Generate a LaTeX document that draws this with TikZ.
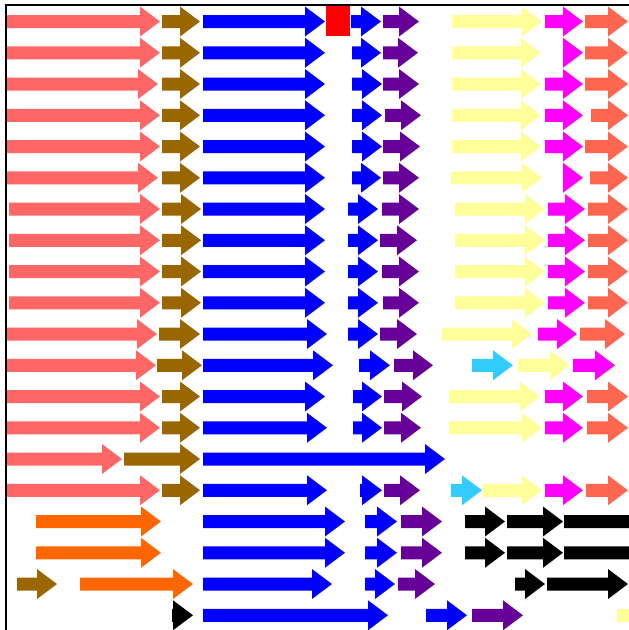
\documentclass[tikz,border=0pt]{standalone}
\definecolor{genePink}{HTML}{FF6666}
\definecolor{geneBrown}{HTML}{996600}
\definecolor{geneBlue}{HTML}{0000FF}
\definecolor{geneRed}{HTML}{FF0000}
\definecolor{genePurple}{HTML}{660099}
\definecolor{geneYellow}{HTML}{FFFF99}
\definecolor{geneMagenta}{HTML}{FF00FF}
\definecolor{geneSalmon}{HTML}{FF6650}
\definecolor{geneCyan}{HTML}{33CCFF}
\definecolor{geneOrange}{HTML}{FF6600}
\begin{document}
\begin{tikzpicture}[x=1pt,y=-1pt]
    \clip (0,0) rectangle (629,630);
    \fill[white] (0,0) rectangle (629,630);
    % row / start / tip / colour
    \foreach \r/\a/\b/\c in {
        1/7/160/genePink, 1/162/200/geneBrown, 1/203/325/geneBlue, 1/351/381/geneBlue, 1/383/419/genePurple, 1/452/542/geneYellow, 1/545/583/geneMagenta, 1/585/628/geneSalmon,
        2/7/160/genePink, 2/162/200/geneBrown, 2/203/325/geneBlue, 2/352/381/geneBlue, 2/383/418/genePurple, 2/452/541/geneYellow, 2/563/583/geneMagenta, 2/585/628/geneSalmon,
        3/7/158/genePink, 3/162/200/geneBrown, 3/203/325/geneBlue, 3/352/382/geneBlue, 3/383/419/genePurple, 3/452/541/geneYellow, 3/545/583/geneMagenta, 3/585/628/geneSalmon,
        4/7/160/genePink, 4/162/200/geneBrown, 4/203/325/geneBlue, 4/352/382/geneBlue, 4/385/421/genePurple, 4/452/541/geneYellow, 4/545/583/geneMagenta, 4/591/628/geneSalmon,
        5/7/160/genePink, 5/162/200/geneBrown, 5/203/325/geneBlue, 5/352/382/geneBlue, 5/383/420/genePurple, 5/452/541/geneYellow, 5/545/583/geneMagenta, 5/585/628/geneSalmon,
        6/7/158/genePink, 6/162/200/geneBrown, 6/203/325/geneBlue, 6/352/381/geneBlue, 6/383/419/genePurple, 6/451/542/geneYellow, 6/563/583/geneMagenta, 6/590/628/geneSalmon,
        7/9/160/genePink, 7/162/201/geneBrown, 7/203/325/geneBlue, 7/348/378/geneBlue, 7/382/419/genePurple, 7/455/545/geneYellow, 7/548/585/geneMagenta, 7/588/628/geneSalmon,
        8/9/160/genePink, 8/162/201/geneBrown, 8/203/325/geneBlue, 8/348/378/geneBlue, 8/380/417/genePurple, 8/455/545/geneYellow, 8/548/585/geneMagenta, 8/588/628/geneSalmon,
        9/9/160/genePink, 9/162/201/geneBrown, 9/203/325/geneBlue, 9/348/378/geneBlue, 9/382/419/genePurple, 9/455/545/geneYellow, 9/548/585/geneMagenta, 9/588/628/geneSalmon,
        10/9/160/genePink, 10/162/201/geneBrown, 10/203/325/geneBlue, 10/348/378/geneBlue, 10/383/419/genePurple, 10/455/545/geneYellow, 10/548/585/geneMagenta, 10/588/628/geneSalmon,
        11/7/157/genePink, 11/159/200/geneBrown, 11/203/327/geneBlue, 11/348/378/geneBlue, 11/380/417/genePurple, 11/442/532/geneYellow, 11/538/577/geneMagenta, 11/580/625/geneSalmon,
        12/7/156/genePink, 12/157/202/geneBrown, 12/203/333/geneBlue, 12/359/390/geneBlue, 12/394/433/genePurple, 12/472/513/geneCyan, 12/518/570/geneYellow, 12/573/615/geneMagenta,
        13/7/160/genePink, 13/162/200/geneBrown, 13/203/325/geneBlue, 13/353/382/geneBlue, 13/384/422/genePurple, 13/449/540/geneYellow, 13/545/583/geneMagenta, 13/587/628/geneSalmon,
        14/7/160/genePink, 14/162/200/geneBrown, 14/203/327/geneBlue, 14/353/382/geneBlue, 14/384/421/genePurple, 14/449/542/geneYellow, 14/545/583/geneMagenta, 14/587/628/geneSalmon,
        15/7/122/genePink, 15/124/200/geneBrown, 15/203/445/geneBlue,
        16/7/160/genePink, 16/162/200/geneBrown, 16/203/327/geneBlue, 16/360/382/geneBlue, 16/384/420/genePurple, 16/451/482/geneCyan, 16/483/542/geneYellow, 16/545/583/geneMagenta, 16/586/628/geneSalmon,
        17/36/161/geneOrange, 17/203/345/geneBlue, 17/365/397/geneBlue, 17/401/442/genePurple, 17/465/505/black, 17/507/563/black, 17/564/660/black,
        18/36/161/geneOrange, 18/203/345/geneBlue, 18/365/397/geneBlue, 18/401/442/genePurple, 18/465/505/black, 18/507/563/black, 18/564/660/black,
        19/17/57/geneBrown, 19/80/193/geneOrange, 19/203/332/geneBlue, 19/365/395/geneBlue, 19/398/435/genePurple, 19/515/545/black, 19/547/628/black,
        20/172/193/black, 20/203/388/geneBlue, 20/426/467/geneBlue, 20/472/523/genePurple, 20/617/670/geneYellow}
    {
        \pgfmathsetmacro\yc{21.5+31.25*(\r-1)}
        \pgfmathsetmacro\xh{\b-20}
        \fill[\c] (\a,\yc-6.5) -- (\xh,\yc-6.5) -- (\xh,\yc-15) -- (\b,\yc)
            -- (\xh,\yc+15) -- (\xh,\yc+6.5) -- (\a,\yc+6.5) -- cycle;
    }
    \fill[geneRed] (326,6) rectangle (350,36);
    \draw[line width=1.5pt] (6,630) -- (6,5) -- (629,5);
\end{tikzpicture}
\end{document}
